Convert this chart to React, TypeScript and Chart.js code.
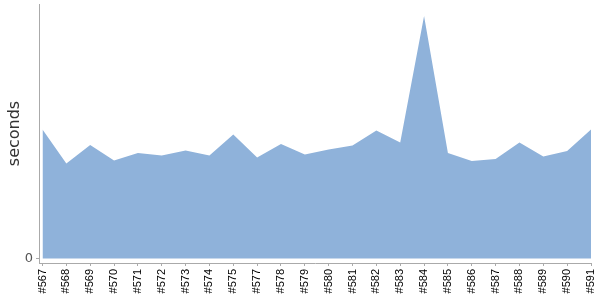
import { useEffect, useRef } from "react";
import Chart from "chart.js/auto";

const builds = [
  "#567", "#568", "#569", "#570", "#571", "#572", "#573", "#574", "#575", "#577",
  "#578", "#579", "#580", "#581", "#582", "#583", "#584", "#585", "#586", "#587",
  "#588", "#589", "#590", "#591",
];
const seconds = [
  129, 95, 113.5, 98, 105.5, 103, 108, 103, 124, 101,
  114.5, 104, 109, 113, 128, 116, 242.5, 105.5, 97.5, 99.5,
  116, 102, 107.5, 129,
];
const yTickValues = [0];
const yMin = -4.5;
const yMax = 254.5;

export default function App() {
  const ref = useRef<HTMLCanvasElement>(null);
  useEffect(() => {
    const chart = new Chart(ref.current!, {
      type: "line",
      data: {
        datasets: [
          {
            data: seconds.map((v, i) => ({ x: i, y: v })),
            fill: "origin",
            backgroundColor: "#8FB2DA",
            borderColor: "rgba(0,0,0,0)",
            borderWidth: 0,
            pointRadius: 0,
            tension: 0,
          },
        ],
      },
      options: {
        animation: false,
        responsive: false,
        events: [],
        plugins: { legend: { display: false }, tooltip: { enabled: false } },
        layout: { padding: { top: 4, right: 9, left: 0, bottom: 0 } },
        scales: {
          x: {
            type: "linear",
            min: -0.147,
            max: builds.length - 1,
            afterBuildTicks: (scale: any) => {
              scale.ticks = builds.map((_, i) => ({ value: i }));
            },
            afterFit: (scale: any) => {
              scale.height = 37;
              scale.paddingLeft = 0;
              scale.paddingRight = 0;
            },
            ticks: {
              autoSkip: false,
              maxRotation: 90,
              minRotation: 90,
              padding: 3,
              color: "#000",
              font: { family: "Liberation Sans", size: 11 },
              callback: (v: any) => builds[Math.round(Number(v))] ?? "",
            },
            grid: {
              display: true,
              drawOnChartArea: false,
              drawTicks: true,
              tickLength: 3,
              color: "#aaa",
            },
            border: { display: true, color: "#aaa" },
          },
          y: {
            min: yMin,
            max: yMax,
            afterBuildTicks: (scale: any) => {
              scale.ticks = yTickValues.map((v) => ({ value: v }));
            },
            afterFit: (scale: any) => {
              scale.width = 39;
              scale.paddingTop = 0;
              scale.paddingBottom = 0;
            },
            ticks: {
              padding: 3,
              color: "#555",
              font: { family: "DejaVu Sans", size: 13 },
            },
            title: {
              display: true,
              text: "seconds",
              color: "#333",
              font: { family: "DejaVu Sans", size: 16 },
              padding: { top: 5, bottom: 0 },
            },
            grid: {
              display: true,
              drawOnChartArea: false,
              drawTicks: true,
              tickLength: 3,
              color: "#aaa",
            },
            border: { display: true, color: "#aaa" },
          },
        },
      },
    });
    return () => chart.destroy();
  }, []);
  return (
    <div style={{ position: "fixed", left: 0, top: 0, width: 600, height: 300, background: "#fff" }}>
      <canvas ref={ref} width={600} height={300} />
    </div>
  );
}
